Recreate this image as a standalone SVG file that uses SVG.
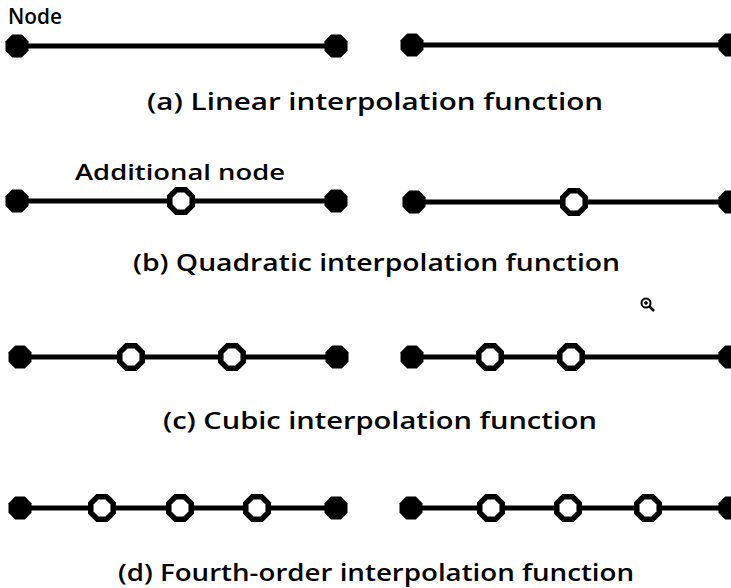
<svg xmlns="http://www.w3.org/2000/svg" xmlns:xlink="http://www.w3.org/1999/xlink" width="731" height="588" viewBox="0 0 731 588">
<style>
.bg{fill:#ffffff}
.edge{stroke:#000;stroke-width:5;fill:none}
.solid{fill:#000}
.open{fill:#fff;stroke:#000;stroke-width:5.5}
.lbl{font-family:"Open Sans","DejaVu Sans",sans-serif;font-size:21px;font-weight:600;fill:#000}
.cap{font-family:"Open Sans","DejaVu Sans",sans-serif;font-size:24px;font-weight:600;fill:#000}
</style>
<defs>
<polygon id="fnode" points="11.5,4.8 4.8,11.5 -4.8,11.5 -11.5,4.8 -11.5,-4.8 -4.8,-11.5 4.8,-11.5 11.5,-4.8"/>
<polygon id="onode" points="11.2,4.6 4.6,11.2 -4.6,11.2 -11.2,4.6 -11.2,-4.6 -4.6,-11.2 4.6,-11.2 11.2,-4.6"/>
</defs>
<rect class="bg" x="0" y="0" width="731" height="588"/>

<g id="connectors">
<line class="edge" x1="17" y1="46" x2="336" y2="46"/>
<line class="edge" x1="412" y1="45" x2="728" y2="45"/>
<line class="edge" x1="17" y1="201" x2="336" y2="201"/>
<line class="edge" x1="414" y1="202" x2="728" y2="202"/>
<line class="edge" x1="20" y1="357" x2="337" y2="357"/>
<line class="edge" x1="412" y1="357" x2="728" y2="357"/>
<line class="edge" x1="20" y1="508" x2="336" y2="508"/>
<line class="edge" x1="411" y1="508" x2="728" y2="508"/>
</g>

<g id="row-a">
<g id="a-l1"><use xlink:href="#fnode" class="solid" x="17" y="46"/></g>
<g id="a-l2"><use xlink:href="#fnode" class="solid" x="336" y="46"/></g>
<g id="a-r1"><use xlink:href="#fnode" class="solid" x="412" y="45"/></g>
<g id="a-r2"><use xlink:href="#fnode" class="solid" x="730" y="45"/></g>
</g>

<g id="row-b">
<g id="b-l1"><use xlink:href="#fnode" class="solid" x="17" y="201"/></g>
<g id="b-l2"><use xlink:href="#onode" class="open" x="181" y="201"/></g>
<g id="b-l3"><use xlink:href="#fnode" class="solid" x="336" y="201"/></g>
<g id="b-r1"><use xlink:href="#fnode" class="solid" x="414" y="202"/></g>
<g id="b-r2"><use xlink:href="#onode" class="open" x="574" y="202"/></g>
<g id="b-r3"><use xlink:href="#fnode" class="solid" x="730" y="202"/></g>
</g>

<g id="row-c">
<g id="c-l1"><use xlink:href="#fnode" class="solid" x="20" y="357"/></g>
<g id="c-l2"><use xlink:href="#onode" class="open" x="131" y="357"/></g>
<g id="c-l3"><use xlink:href="#onode" class="open" x="232" y="357"/></g>
<g id="c-l4"><use xlink:href="#fnode" class="solid" x="337" y="357"/></g>
<g id="c-r1"><use xlink:href="#fnode" class="solid" x="412" y="357"/></g>
<g id="c-r2"><use xlink:href="#onode" class="open" x="490" y="357"/></g>
<g id="c-r3"><use xlink:href="#onode" class="open" x="571" y="357"/></g>
<g id="c-r4"><use xlink:href="#fnode" class="solid" x="730" y="357"/></g>
</g>

<g id="row-d">
<g id="d-l1"><use xlink:href="#fnode" class="solid" x="20" y="508"/></g>
<g id="d-l2"><use xlink:href="#onode" class="open" x="102" y="508"/></g>
<g id="d-l3"><use xlink:href="#onode" class="open" x="180" y="508"/></g>
<g id="d-l4"><use xlink:href="#onode" class="open" x="257" y="508"/></g>
<g id="d-l5"><use xlink:href="#fnode" class="solid" x="336" y="508"/></g>
<g id="d-r1"><use xlink:href="#fnode" class="solid" x="411" y="508"/></g>
<g id="d-r2"><use xlink:href="#onode" class="open" x="491" y="508"/></g>
<g id="d-r3"><use xlink:href="#onode" class="open" x="568" y="508"/></g>
<g id="d-r4"><use xlink:href="#onode" class="open" x="648" y="508"/></g>
<g id="d-r5"><use xlink:href="#fnode" class="solid" x="730" y="508"/></g>
</g>

<g id="labels">
<text class="lbl" x="8" y="24" textLength="54" lengthAdjust="spacingAndGlyphs">Node</text>
<text class="lbl" x="75" y="180" textLength="210" lengthAdjust="spacingAndGlyphs">Additional node</text>
<text class="cap" x="147" y="110" textLength="456" lengthAdjust="spacingAndGlyphs">(a) Linear interpolation function</text>
<text class="cap" x="133" y="271" textLength="487" lengthAdjust="spacingAndGlyphs">(b) Quadratic interpolation function</text>
<text class="cap" x="163" y="429" textLength="434" lengthAdjust="spacingAndGlyphs">(c) Cubic interpolation function</text>
<text class="cap" x="118" y="581" textLength="516" lengthAdjust="spacingAndGlyphs">(d) Fourth-order interpolation function</text>
</g>

<g id="zoom-icon" fill="none" stroke="#000">
<circle cx="646" cy="303" r="4.5" stroke-width="2"/>
<line x1="649.5" y1="306.5" x2="654" y2="311" stroke-width="2.5"/>
<line x1="644" y1="303" x2="648" y2="303" stroke-width="1.5"/>
<line x1="646" y1="301" x2="646" y2="305" stroke-width="1.5"/>
</g>
</svg>
